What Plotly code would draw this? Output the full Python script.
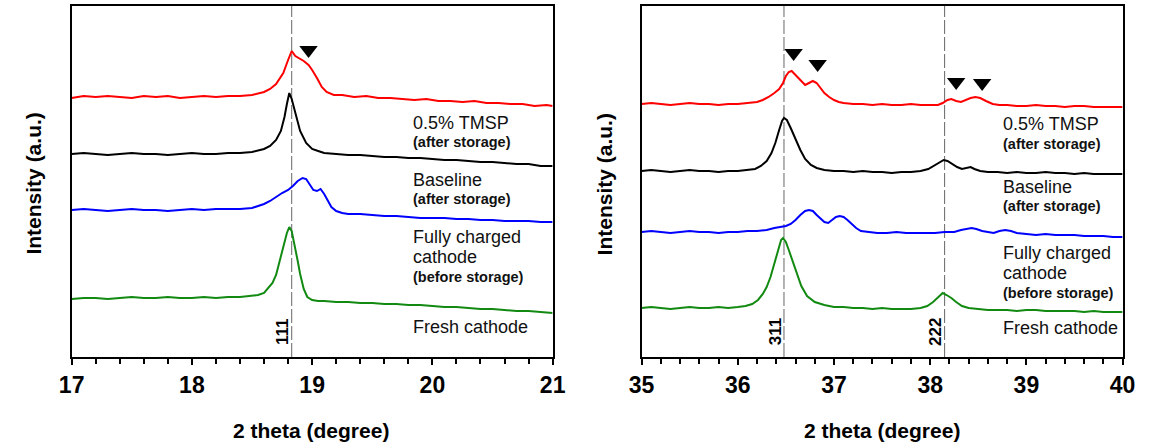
import plotly.graph_objects as go

# ---------------- data (intensity in arbitrary units) -------------
# Left panel: 2theta 17-21
L_red_x = [17.0, 17.1, 17.2, 17.3, 17.4, 17.5, 17.6, 17.7, 17.8, 17.9, 18.0, 18.1, 18.2, 18.3, 18.4, 18.5, 18.6, 18.65, 18.7, 18.76, 18.8, 18.83, 18.86, 18.9, 18.93, 18.97, 19.0, 19.04, 19.08, 19.12, 19.18, 19.25, 19.35, 19.45, 19.55, 19.65, 19.75, 19.85, 19.95, 20.05, 20.15, 20.25, 20.35, 20.45, 20.55, 20.65, 20.75, 20.85, 20.95, 21.0]
L_red_y = [259, 261, 260, 261, 260, 259, 261, 260, 261, 259, 260, 261, 260, 261, 261, 262, 265, 268, 273, 284, 297, 306, 301, 298, 296, 292, 287, 279, 270, 265, 262, 262, 260, 261, 259, 259, 258, 257, 258, 256, 256, 255, 256, 254, 254, 253, 253, 251, 252, 251]

L_black_x = [17.0, 17.1, 17.2, 17.3, 17.4, 17.5, 17.6, 17.7, 17.8, 17.9, 18.0, 18.1, 18.2, 18.3, 18.4, 18.5, 18.6, 18.65, 18.7, 18.74, 18.77, 18.79, 18.81, 18.83, 18.86, 18.9, 18.95, 19.0, 19.05, 19.1, 19.2, 19.3, 19.4, 19.5, 19.6, 19.7, 19.8, 19.9, 20.0, 20.1, 20.2, 20.3, 20.4, 20.5, 20.6, 20.7, 20.8, 20.9, 21.0]
L_black_y = [203, 204, 203, 202, 203, 204, 203, 203, 202, 203, 204, 203, 203, 204, 204, 205, 208, 211, 217, 226, 240, 253, 264, 258, 244, 226, 214, 208, 206, 204, 203, 202, 202, 201, 200, 200, 199, 199, 198, 197, 197, 196, 195, 195, 194, 193, 193, 191, 191]

L_blue_x = [17.0, 17.1, 17.2, 17.3, 17.4, 17.5, 17.6, 17.7, 17.8, 17.9, 18.0, 18.1, 18.2, 18.3, 18.4, 18.5, 18.55, 18.6, 18.65, 18.7, 18.75, 18.8, 18.84, 18.88, 18.92, 18.95, 18.98, 19.01, 19.04, 19.07, 19.1, 19.13, 19.16, 19.2, 19.25, 19.3, 19.4, 19.5, 19.6, 19.7, 19.8, 19.9, 20.0, 20.1, 20.2, 20.3, 20.4, 20.5, 20.6, 20.7, 20.8, 20.9, 21.0]
L_blue_y = [147, 148, 147, 146, 147, 148, 147, 147, 146, 147, 148, 147, 148, 148, 148, 149, 151, 153, 156, 160, 164, 167, 171, 176, 179, 178, 172, 167, 166, 168, 163, 156, 150, 146, 144, 143, 143, 142, 141, 141, 140, 139, 139, 139, 138, 138, 137, 137, 136, 136, 136, 135, 135]

L_green_x = [17.0, 17.1, 17.2, 17.3, 17.4, 17.5, 17.6, 17.7, 17.8, 17.9, 18.0, 18.1, 18.2, 18.3, 18.4, 18.5, 18.55, 18.6, 18.63, 18.67, 18.7, 18.73, 18.76, 18.79, 18.81, 18.83, 18.86, 18.88, 18.9, 18.93, 18.96, 19.0, 19.05, 19.1, 19.2, 19.3, 19.4, 19.5, 19.6, 19.7, 19.8, 19.9, 20.0, 20.1, 20.2, 20.3, 20.4, 20.5, 20.6, 20.7, 20.8, 20.9, 21.0]
L_green_y = [58, 59, 59, 58, 59, 60, 59, 59, 60, 59, 59, 60, 59, 60, 60, 61, 62, 64, 68, 74, 82, 95, 110, 124, 130, 126, 110, 96, 83, 68, 60, 57, 56, 56, 55, 55, 54, 54, 53, 53, 52, 52, 51, 50, 50, 49, 48, 48, 47, 46, 46, 45, 44]

# Right panel: 2theta 35-40
R_red_x = [35.0, 35.1, 35.2, 35.3, 35.4, 35.5, 35.6, 35.7, 35.8, 35.9, 36.0, 36.1, 36.2, 36.26, 36.32, 36.38, 36.43, 36.47, 36.5, 36.53, 36.56, 36.6, 36.65, 36.7, 36.74, 36.78, 36.82, 36.86, 36.9, 36.95, 37.0, 37.05, 37.1, 37.2, 37.3, 37.4, 37.5, 37.6, 37.7, 37.8, 37.9, 38.0, 38.08, 38.13, 38.18, 38.22, 38.27, 38.32, 38.37, 38.42, 38.47, 38.52, 38.58, 38.65, 38.72, 38.8, 38.9, 39.0, 39.1, 39.2, 39.3, 39.4, 39.5, 39.6, 39.7, 39.8, 39.9, 40.0]
R_red_y = [253, 254, 253, 252, 253, 254, 253, 253, 252, 253, 253, 254, 255, 257, 260, 264, 268, 274, 281, 285, 286, 282, 277, 272, 274, 276, 274, 269, 264, 260, 257, 255, 254, 253, 253, 252, 253, 252, 252, 253, 252, 252, 252, 254, 257, 258, 256, 255, 257, 259, 260, 259, 256, 253, 252, 252, 251, 251, 252, 251, 251, 250, 251, 251, 250, 250, 250, 250]

R_black_x = [35.0, 35.1, 35.2, 35.3, 35.4, 35.5, 35.6, 35.7, 35.8, 35.9, 36.0, 36.1, 36.18, 36.24, 36.3, 36.35, 36.39, 36.43, 36.46, 36.48, 36.51, 36.55, 36.6, 36.65, 36.7, 36.76, 36.82, 36.9, 37.0, 37.1, 37.2, 37.3, 37.4, 37.5, 37.6, 37.7, 37.8, 37.9, 37.98, 38.05, 38.1, 38.14, 38.18, 38.23, 38.28, 38.33, 38.38, 38.42, 38.46, 38.52, 38.6, 38.7, 38.8, 38.9, 39.0, 39.1, 39.2, 39.3, 39.4, 39.5, 39.6, 39.7, 39.8, 39.9, 40.0]
R_black_y = [186, 187, 186, 185, 186, 187, 186, 186, 185, 186, 186, 187, 188, 191, 196, 204, 214, 227, 236, 239, 237, 229, 218, 207, 198, 192, 189, 187, 186, 186, 185, 186, 185, 185, 184, 185, 185, 186, 188, 192, 195, 197, 196, 193, 190, 188, 189, 190, 188, 186, 185, 185, 184, 185, 184, 184, 185, 184, 184, 183, 184, 183, 183, 183, 183]

R_blue_x = [35.0, 35.1, 35.2, 35.3, 35.4, 35.5, 35.6, 35.7, 35.8, 35.9, 36.0, 36.1, 36.2, 36.3, 36.38, 36.45, 36.5, 36.55, 36.6, 36.65, 36.7, 36.74, 36.78, 36.82, 36.86, 36.9, 36.94, 36.98, 37.02, 37.06, 37.1, 37.14, 37.18, 37.23, 37.28, 37.35, 37.45, 37.55, 37.65, 37.75, 37.85, 37.95, 38.05, 38.15, 38.25, 38.32, 38.38, 38.43, 38.48, 38.54, 38.6, 38.66, 38.72, 38.78, 38.84, 38.9, 39.0, 39.1, 39.2, 39.3, 39.4, 39.5, 39.6, 39.7, 39.8, 39.9, 40.0]
R_blue_y = [125, 126, 125, 124, 125, 126, 125, 125, 124, 125, 125, 126, 126, 127, 129, 130, 131, 133, 137, 142, 146, 147, 146, 142, 138, 135, 134, 137, 140, 141, 140, 137, 133, 129, 126, 125, 124, 124, 125, 124, 124, 124, 124, 125, 125, 127, 128, 129, 128, 126, 125, 124, 126, 127, 126, 124, 123, 122, 123, 122, 122, 122, 121, 121, 121, 120, 120]

R_green_x = [35.0, 35.1, 35.2, 35.3, 35.4, 35.5, 35.6, 35.7, 35.8, 35.9, 36.0, 36.08, 36.15, 36.21, 36.26, 36.3, 36.34, 36.38, 36.42, 36.45, 36.47, 36.5, 36.53, 36.57, 36.61, 36.66, 36.72, 36.8, 36.9, 37.0, 37.1, 37.2, 37.3, 37.4, 37.5, 37.6, 37.7, 37.8, 37.9, 37.97, 38.03, 38.08, 38.13, 38.17, 38.22, 38.27, 38.33, 38.4, 38.5, 38.6, 38.7, 38.8, 38.9, 39.0, 39.1, 39.2, 39.3, 39.4, 39.5, 39.6, 39.7, 39.8, 39.9, 40.0]
R_green_y = [49, 50, 49, 48, 49, 50, 49, 49, 50, 49, 50, 51, 53, 57, 63, 70, 80, 94, 108, 117, 119, 115, 107, 96, 84, 71, 61, 55, 52, 50, 50, 49, 49, 48, 49, 48, 48, 48, 49, 51, 55, 60, 64, 62, 59, 55, 51, 49, 48, 47, 47, 47, 46, 47, 47, 46, 46, 46, 46, 45, 46, 45, 45, 45]

# Peak reference lines and their Miller-index labels
L_ref_x = [18.83]
L_ref_labels = ["111"]
L_ref_label_x = [18.75]
R_ref_x = [36.48, 38.15]
R_ref_labels = ["311", "222"]
R_ref_label_x = [36.39, 38.05]
ref_label_y = 25

# Triangle markers (new phase peaks)
L_tri_x = [18.97]
L_tri_y = [307]
R_tri_x = [36.58, 36.83, 38.27, 38.54]
R_tri_y = [304, 293, 275, 274]

L_tick_vals = [17, 18, 19, 20, 21]
R_tick_vals = [35, 36, 37, 38, 39, 40]

# sample labels: (pixel row, text, kind)
L_labels = [(123, "0.5% TMSP", "main"), (142, "(after storage)", "sub"), (180, "Baseline", "main"),
            (199, "(after storage)", "sub"), (237, "Fully charged", "main"), (257, "cathode", "main"),
            (277, "(before storage)", "sub"), (327, "Fresh cathode", "main")]
R_labels = [(124, "0.5% TMSP", "main"), (144, "(after storage)", "sub"), (187, "Baseline", "main"),
            (206, "(after storage)", "sub"), (253, "Fully charged", "main"), (273, "cathode", "main"),
            (293, "(before storage)", "sub"), (328, "Fresh cathode", "main")]

COLORS = {"red": "#ff0000", "black": "#000000", "blue": "#0000ff", "green": "#128a12"}

W, H = 1161, 448
TOP, BOT = 6, 357
FONT = "Liberation Sans, Arial, sans-serif"

fig = go.Figure()

def add_series(xs, ys, color, xa, ya):
    fig.add_trace(go.Scatter(x=xs, y=ys, mode="lines", line=dict(color=color, width=2),
                             xaxis=xa, yaxis=ya, showlegend=False, hoverinfo="skip"))

add_series(L_red_x, L_red_y, COLORS["red"], "x", "y")
add_series(L_black_x, L_black_y, COLORS["black"], "x", "y")
add_series(L_blue_x, L_blue_y, COLORS["blue"], "x", "y")
add_series(L_green_x, L_green_y, COLORS["green"], "x", "y")
add_series(R_red_x, R_red_y, COLORS["red"], "x2", "y2")
add_series(R_black_x, R_black_y, COLORS["black"], "x2", "y2")
add_series(R_blue_x, R_blue_y, COLORS["blue"], "x2", "y2")
add_series(R_green_x, R_green_y, COLORS["green"], "x2", "y2")

fig.add_trace(go.Scatter(x=L_tri_x, y=L_tri_y, mode="markers", xaxis="x", yaxis="y",
                         marker=dict(symbol="triangle-down", size=16, color="black"),
                         showlegend=False, hoverinfo="skip"))
fig.add_trace(go.Scatter(x=R_tri_x, y=R_tri_y, mode="markers", xaxis="x2", yaxis="y2",
                         marker=dict(symbol="triangle-down", size=16, color="black"),
                         showlegend=False, hoverinfo="skip"))

for xv in L_ref_x:
    fig.add_shape(type="line", xref="x", yref="y domain", x0=xv, x1=xv, y0=0, y1=1,
                  line=dict(color="#666666", width=1, dash="14px,3px"), layer="below")
for xv in R_ref_x:
    fig.add_shape(type="line", xref="x2", yref="y2 domain", x0=xv, x1=xv, y0=0, y1=1,
                  line=dict(color="#666666", width=1, dash="14px,3px"), layer="below")

for xv, t in zip(L_ref_label_x, L_ref_labels):
    fig.add_annotation(x=xv, y=ref_label_y, xref="x", yref="y", text=t, textangle=-90, showarrow=False,
                       xanchor="center", yanchor="middle",
                       font=dict(family=FONT, size=17, color="black", weight="bold"))
for xv, t in zip(R_ref_label_x, R_ref_labels):
    fig.add_annotation(x=xv, y=ref_label_y, xref="x2", yref="y2", text=t, textangle=-90, showarrow=False,
                       xanchor="center", yanchor="middle",
                       font=dict(family=FONT, size=17, color="black", weight="bold"))

def px_x(p):
    return p / W

def px_y(p):
    return 1 - p / H

STYLE = {"main": dict(size=18, weight="normal"), "sub": dict(size=14.5, weight="bold")}

def add_label(x0, ypx, text, kind):
    st = STYLE[kind]
    fig.add_annotation(x=px_x(x0), y=px_y(ypx), xref="paper", yref="paper", text=text,
                       showarrow=False, xanchor="left", yanchor="middle",
                       font=dict(family=FONT, size=st["size"], weight=st["weight"], color="#111111"))

for ypx, t, k in L_labels:
    add_label(407, ypx, t, k)
for ypx, t, k in R_labels:
    add_label(1011, ypx, t, k)

# axis titles
for cx in (305, 889):
    fig.add_annotation(x=px_x(cx), y=px_y(430), xref="paper", yref="paper", text="2 theta (degree)",
                       xanchor="center", yanchor="middle",
                       showarrow=False, font=dict(family=FONT, size=21, color="black", weight="bold"))
for cx in (20, 605):
    fig.add_annotation(x=px_x(cx), y=px_y(184), xref="paper", yref="paper", text="Intensity (a.u.)",
                       xanchor="center", yanchor="middle",
                       textangle=-90, showarrow=False, font=dict(family=FONT, size=21, color="black", weight="bold"))

xcommon = dict(showline=True, linecolor="black", linewidth=2, mirror=True, ticks="outside", ticklen=6,
               tickwidth=2, tickcolor="black", showgrid=False, zeroline=False,
               tickfont=dict(family=FONT, size=23, color="black", weight="bold"),
               minor=dict(ticks="outside", ticklen=5, tickwidth=2, tickcolor="black", dtick=0.2, showgrid=False))
ycommon = dict(showline=True, linecolor="black", linewidth=2, mirror=True, ticks="", showticklabels=False,
               showgrid=False, zeroline=False, range=[0, BOT - TOP], domain=[px_y(BOT), px_y(TOP)])

fig.update_layout(
    width=W, height=H, margin=dict(l=0, r=0, t=0, b=0),
    paper_bgcolor="white", plot_bgcolor="white",
    xaxis=dict(xcommon, range=[17, 21], tickvals=L_tick_vals, domain=[px_x(60), px_x(552)], anchor="y"),
    yaxis=dict(ycommon, anchor="x"),
    xaxis2=dict(xcommon, range=[35, 40], tickvals=R_tick_vals, domain=[px_x(643), px_x(1135)], anchor="y2"),
    yaxis2=dict(ycommon, anchor="x2"),
)

fig.write_html("out.html")
